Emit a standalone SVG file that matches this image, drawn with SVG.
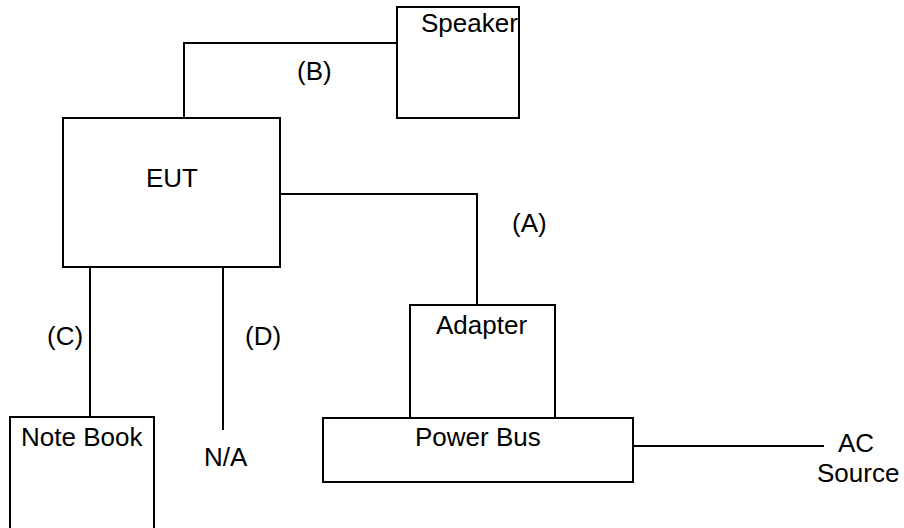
<svg xmlns="http://www.w3.org/2000/svg" width="904" height="528" viewBox="0 0 904 528">
<style>
.box{fill:none;stroke:#000;stroke-width:2}
.wire{fill:none;stroke:#000;stroke-width:2}
text{font-family:"Liberation Sans",Arial,sans-serif;font-size:26px;fill:#000}
</style>
<rect width="904" height="528" fill="#fff"/>
<g id="connectors">
<polyline class="wire" points="184,118 184,43 397,43"/>
<polyline class="wire" points="280,194 477,194 477,305"/>
<line class="wire" x1="90" y1="267" x2="90" y2="417"/>
<line class="wire" x1="223" y1="267" x2="223" y2="430"/>
<line class="wire" x1="633" y1="446" x2="824" y2="446"/>
<text x="297" y="80">(B)</text>
<text x="512" y="232">(A)</text>
<text x="47" y="345">(C)</text>
<text x="245" y="345">(D)</text>
</g>
<g id="speaker">
<rect class="box" x="397" y="7" width="122" height="111"/>
<text x="421" y="32">Speaker</text>
</g>
<g id="eut">
<rect class="box" x="63" y="118" width="217" height="149"/>
<text x="146" y="187">EUT</text>
</g>
<g id="adapter">
<rect class="box" x="410" y="305" width="145" height="113"/>
<text x="436" y="334">Adapter</text>
</g>
<g id="powerbus">
<rect class="box" x="323" y="418" width="310" height="64"/>
<text x="415" y="446">Power Bus</text>
</g>
<g id="notebook">
<rect class="box" x="10" y="417" width="144" height="130"/>
<text x="21" y="446">Note Book</text>
</g>
<g id="na">
<text x="204" y="466">N/A</text>
</g>
<g id="ac">
<text x="838" y="452">AC</text>
<text x="817" y="482">Source</text>
</g>
</svg>
